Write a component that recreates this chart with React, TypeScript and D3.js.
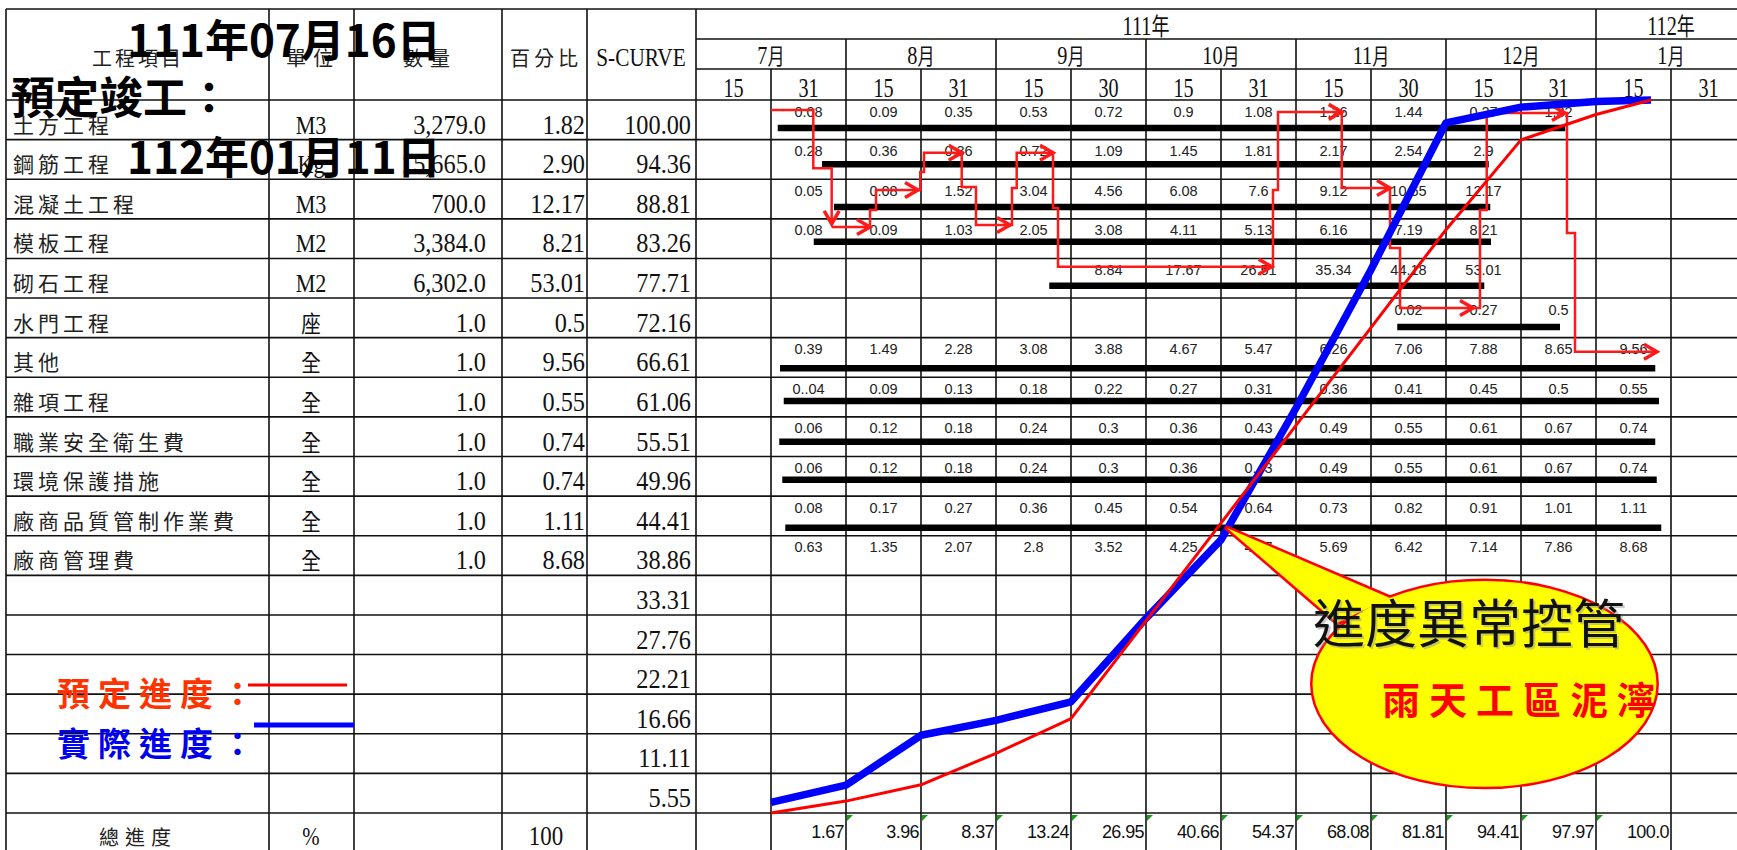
import React from 'react';
import * as d3 from 'd3';

const WIDTH = 1737;
const HEIGHT = 850;

// ---------- left table ----------
const itemNames = ['土方工程', '鋼筋工程', '混凝土工程', '模板工程', '砌石工程', '水門工程', '其他', '雜項工程', '職業安全衛生費', '環境保護措施', '廠商品質管制作業費', '廠商管理費'];
const itemUnits = ['M3', 'Kg', 'M3', 'M2', 'M2', '座', '全', '全', '全', '全', '全', '全'];
const itemQty = ['3,279.0', '15,665.0', '700.0', '3,384.0', '6,302.0', '1.0', '1.0', '1.0', '1.0', '1.0', '1.0', '1.0'];
const itemPct = ['1.82', '2.90', '12.17', '8.21', '53.01', '0.5', '9.56', '0.55', '0.74', '0.74', '1.11', '8.68'];
const sCurveTicks = ['100.00', '94.36', '88.81', '83.26', '77.71', '72.16', '66.61', '61.06', '55.51', '49.96', '44.41', '38.86', '33.31', '27.76', '22.21', '16.66', '11.11', '5.55'];

// ---------- time header ----------
const yearLabels = ['111年', '112年'];
const yearSpans = [[0, 12], [12, 14]];
const monthLabels = ['7月', '8月', '9月', '10月', '11月', '12月', '1月'];
const dayLabels = ['15', '31', '15', '31', '15', '30', '15', '31', '15', '30', '15', '31', '15', '31'];

// ---------- per-item cumulative values in cells ----------
const cellStartCols = [1, 1, 1, 1, 5, 9, 1, 1, 1, 1, 1, 1];
const cellValues = [
  ['0.08', '0.09', '0.35', '0.53', '0.72', '0.9', '1.08', '1.26', '1.44', '0.27', '1.82'],
  ['0.28', '0.36', '0.36', '0.72', '1.09', '1.45', '1.81', '2.17', '2.54', '2.9'],
  ['0.05', '0.08', '1.52', '3.04', '4.56', '6.08', '7.6', '9.12', '10.65', '12.17'],
  ['0.08', '0.09', '1.03', '2.05', '3.08', '4.11', '5.13', '6.16', '7.19', '8.21'],
  ['8.84', '17.67', '26.51', '35.34', '44.18', '53.01'],
  ['0.02', '0.27', '0.5'],
  ['0.39', '1.49', '2.28', '3.08', '3.88', '4.67', '5.47', '6.26', '7.06', '7.88', '8.65', '9.56'],
  ['0..04', '0.09', '0.13', '0.18', '0.22', '0.27', '0.31', '0.36', '0.41', '0.45', '0.5', '0.55'],
  ['0.06', '0.12', '0.18', '0.24', '0.3', '0.36', '0.43', '0.49', '0.55', '0.61', '0.67', '0.74'],
  ['0.06', '0.12', '0.18', '0.24', '0.3', '0.36', '0.43', '0.49', '0.55', '0.61', '0.67', '0.74'],
  ['0.08', '0.17', '0.27', '0.36', '0.45', '0.54', '0.64', '0.73', '0.82', '0.91', '1.01', '1.11'],
  ['0.63', '1.35', '2.07', '2.8', '3.52', '4.25', '4.97', '5.69', '6.42', '7.14', '7.86', '8.68'],
];

// ---------- gantt bars (in column / row units) ----------
const barStartCol = [1.09, 1.68, 1.84, 1.57, 4.71, 9.35, 1.12, 1.17, 1.11, 1.15, 1.19];
const barEndCol = [11.59, 10.57, 10.59, 10.6, 10.51, 11.52, 12.79, 12.84, 12.79, 12.81, 12.87];
const barRowPos = [0.71, 1.62, 2.7, 3.58, 4.69, 5.73, 6.77, 7.6, 8.63, 9.59, 10.8];

// ---------- S-curve ----------
const curveT = [1, 2, 3, 4, 5, 6, 7, 8, 9, 10, 11, 12, 12.733];
const plannedPct = [0, 1.67, 3.96, 8.37, 13.24, 26.95, 40.66, 54.37, 68.08, 81.81, 94.41, 97.97, 100];
const actualPct = [1.5, 3.9, 10.9, 13.0, 15.6, 27.3, 38.3, 56.8, 76.2, 96.8, 99.0, 99.8, 100];
const totalLabels = ['1.67', '3.96', '8.37', '13.24', '26.95', '40.66', '54.37', '68.08', '81.81', '94.41', '97.97', '100.0'];

// ---------- red flow arrows (col, row units) ----------
const arrowPaths: [number, number][][] = [
  [[1.0, 0.25], [1.564, 0.25], [1.564, 1.724], [1.809, 1.724], [1.809, 3.13]],
  [[1.809, 3.206], [2.32, 3.206]],
  [[2.32, 3.206], [2.32, 2.777], [2.4, 2.777], [2.4, 2.272], [2.96, 2.272]],
  [[2.96, 2.272], [2.99, 2.272], [2.99, 1.818], [3.04, 1.818], [3.04, 1.33], [3.543, 1.33]],
  [[3.543, 1.33], [3.543, 2.196], [3.733, 2.196], [3.733, 3.156], [4.187, 3.156]],
  [[4.187, 3.156], [4.213, 3.156], [4.213, 2.222], [4.276, 2.222], [4.276, 1.33], [4.76, 1.33]],
  [[4.76, 1.33], [4.76, 2.727], [4.827, 2.727], [4.827, 4.208], [7.676, 4.208]],
  [[7.676, 4.208], [7.693, 4.208], [7.693, 2.272], [7.76, 2.272], [7.76, 0.3], [8.61, 0.3]],
  [[8.61, 0.3], [8.61, 2.222], [9.253, 2.222]],
  [[9.253, 2.222], [9.253, 3.736], [9.387, 3.736], [9.387, 5.251], [10.36, 5.251]],
  [[10.36, 5.251], [10.453, 5.251], [10.453, 2.777], [10.543, 2.777], [10.543, 0.328], [11.587, 0.328]],
  [[11.587, 0.328], [11.613, 0.328], [11.613, 3.358], [11.72, 3.358], [11.72, 6.354], [12.813, 6.354]],
];

// callout (col, row units)
const calloutCenter = [10.513, 14.74];
const calloutRadius = [2.293, 2.6];
const calloutTip = [7.08, 10.805];
const calloutBase = [[8.547, 13.2], [9.253, 12.57]];

const SERIF = "'Liberation Serif', 'DejaVu Serif', serif";
const CJK = "'Noto Sans CJK TC', 'Noto Sans CJK SC', sans-serif";
const SANS = "'Liberation Sans', Arial, sans-serif";

function splitRuns(s: string): string[] {
  return s.match(/[\x00-\x7F]+|[^\x00-\x7F]+/g) || [];
}

function CondText(props: { x: number; y: number; text: string; anchor?: string; sx?: number; latin?: number; cjk?: number; fill?: string }) {
  const { x, y, text, anchor = 'middle', sx = 0.85, latin = 26, cjk = 22, fill = '#111' } = props;
  return (
    <text transform={`translate(${x},${y}) scale(${sx},1)`} textAnchor={anchor} fill={fill}>
      {splitRuns(text).map((r, i) =>
        /^[\x00-\x7F]+$/.test(r) ? (
          <tspan key={i} fontFamily={SERIF} fontSize={latin}>{r}</tspan>
        ) : (
          <tspan key={i} fontFamily={CJK} fontSize={cjk}>{r}</tspan>
        )
      )}
    </text>
  );
}

function arrowHead(p0: number[], p1: number[], len = 15, ang = Math.PI / 6) {
  const a = Math.atan2(p1[1] - p0[1], p1[0] - p0[0]);
  const l = [p1[0] - len * Math.cos(a - ang), p1[1] - len * Math.sin(a - ang)];
  const r = [p1[0] - len * Math.cos(a + ang), p1[1] - len * Math.sin(a + ang)];
  return `M${l[0]},${l[1]}L${p1[0]},${p1[1]}L${r[0]},${r[1]}`;
}

export default function App() {
  const colX = d3.scaleLinear().domain([0, 14]).range([696, 1746]);
  const rowY = d3.scaleLinear().domain([0, 18]).range([100, 813]);
  const pctY = d3.scaleLinear().domain([0, 100]).range([813, 100]);
  const leftCols = [6, 269, 354, 502, 587, 696];
  const lineColor = '#111';
  const lw = 1.6;

  const curveLine = d3
    .line<number>()
    .x((_, i) => colX(curveT[i]))
    .y((d) => pctY(d));

  const toPx = (p: number[]) => [colX(p[0]), rowY(p[1])];
  const flowLine = d3
    .line<number[]>()
    .x((p) => colX(p[0]))
    .y((p) => rowY(p[1]));

  // callout geometry
  const cx = colX(calloutCenter[0]);
  const cy = rowY(calloutCenter[1]);
  const rx = colX(calloutCenter[0] + calloutRadius[0]) - cx;
  const ry = rowY(calloutCenter[1] + calloutRadius[1]) - cy;
  const tip = toPx(calloutTip);
  const b1 = toPx(calloutBase[0]);
  const b2 = toPx(calloutBase[1]);
  const triPath = `M${tip[0]},${tip[1]}L${b1[0]},${b1[1]}L${b2[0]},${b2[1]}Z`;

  const hLines: JSX.Element[] = [];
  hLines.push(<line key="top" x1={6} x2={WIDTH} y1={9} y2={9} />);
  hLines.push(<line key="yr" x1={696} x2={WIDTH} y1={39} y2={39} />);
  hLines.push(<line key="mo" x1={696} x2={WIDTH} y1={69} y2={69} />);
  for (let i = 0; i <= 18; i++) {
    hLines.push(<line key={'r' + i} x1={6} x2={WIDTH} y1={rowY(i)} y2={rowY(i)} />);
  }
  const vLines: JSX.Element[] = [];
  leftCols.forEach((x, i) => vLines.push(<line key={'lc' + i} x1={x} x2={x} y1={9} y2={HEIGHT} />));
  for (let k = 1; k <= 13; k++) {
    const top = k === 12 ? 9 : k % 2 === 0 ? 39 : 69;
    vLines.push(<line key={'vc' + k} x1={colX(k)} x2={colX(k)} y1={top} y2={HEIGHT} />);
  }

  return (
    <svg
      width={WIDTH}
      height={HEIGHT}
      style={{ position: 'absolute', left: 0, top: 0, background: '#fff' }}
      xmlns="http://www.w3.org/2000/svg"
    >
      <rect x={0} y={0} width={WIDTH} height={HEIGHT} fill="#fff" />
      <g stroke={lineColor} strokeWidth={lw}>
        {hLines}
        {vLines}
      </g>

      {/* left header */}
      <text x={138} y={66} textAnchor="middle" fontFamily={CJK} fontSize={20} letterSpacing={3} fill="#222">工程項目</text>
      <text x={313} y={66} textAnchor="middle" fontFamily={CJK} fontSize={20} letterSpacing={7} fill="#222">單位</text>
      <text x={430} y={66} textAnchor="middle" fontFamily={CJK} fontSize={20} letterSpacing={7} fill="#222">數量</text>
      <text x={546} y={66} textAnchor="middle" fontFamily={CJK} fontSize={20} letterSpacing={4} fill="#222">百分比</text>
      <CondText x={641} y={66} text="S-CURVE" sx={0.82} latin={26} />

      {/* time header */}
      {yearLabels.map((t, i) => (
        <CondText key={'y' + i} x={(colX(yearSpans[i][0]) + colX(yearSpans[i][1])) / 2} y={35} text={t} sx={0.75} latin={27} cjk={24} />
      ))}
      {monthLabels.map((t, i) => (
        <CondText key={'m' + i} x={colX(i * 2 + 1)} y={64} text={t} sx={0.78} latin={26} cjk={22} />
      ))}
      {dayLabels.map((t, i) => (
        <CondText key={'d' + i} x={colX(i + 0.5)} y={97} text={t} sx={0.72} latin={28} />
      ))}

      {/* left table body */}
      {itemNames.map((n, i) => (
        <text key={'n' + i} x={13} y={rowY(i + 1) - 7} fontFamily={CJK} fontSize={21} letterSpacing={4} fill="#222">{n}</text>
      ))}
      {itemUnits.map((u, i) => (
        <CondText key={'u' + i} x={311} y={rowY(i + 1) - 6} text={u} sx={0.85} latin={26} cjk={23} />
      ))}
      {itemQty.map((q, i) => (
        <CondText key={'q' + i} x={486} y={rowY(i + 1) - 6} text={q} anchor="end" sx={0.9} latin={27} />
      ))}
      {itemPct.map((q, i) => (
        <CondText key={'p' + i} x={585} y={rowY(i + 1) - 6} text={q} anchor="end" sx={0.9} latin={27} />
      ))}
      {sCurveTicks.map((q, i) => (
        <CondText key={'s' + i} x={691} y={rowY(i + 1) - 6} text={q} anchor="end" sx={0.9} latin={27} />
      ))}
      <text x={138} y={845} textAnchor="middle" fontFamily={CJK} fontSize={20} letterSpacing={6} fill="#222">總進度</text>
      <CondText x={311} y={845} text="%" sx={0.8} latin={26} />
      <CondText x={546} y={845} text="100" sx={0.85} latin={27} />

      {/* gantt bars */}
      <g stroke="#000" strokeWidth={6.5}>
        {barStartCol.map((s, i) => (
          <line key={'b' + i} x1={colX(s)} x2={colX(barEndCol[i])} y1={rowY(barRowPos[i])} y2={rowY(barRowPos[i])} />
        ))}
      </g>

      {/* cell values */}
      <g fontFamily={SANS} fontSize={14.5} fill="#222" textAnchor="middle">
        {cellValues.map((vals, r) =>
          vals.map((v, j) => (
            <text key={r + '-' + j} x={colX(cellStartCols[r] + j + 0.5)} y={rowY(r) + 16.5}>{v}</text>
          ))
        )}
      </g>

      {/* total progress row */}
      <g fontFamily={SANS} fontSize={18} fill="#111" textAnchor="end" letterSpacing={-0.6}>
        {totalLabels.map((t, i) => (
          <text key={'t' + i} x={colX(i + 2) - 2} y={838}>{t}</text>
        ))}
      </g>
      <g fill="#1a9a1a">
        {totalLabels.slice(1).map((_, i) => {
          const x = colX(i + 2) + 1;
          return <path key={'g' + i} d={`M${x},815L${x + 6},815L${x},821Z`} />;
        })}
      </g>

      {/* red flow arrows */}
      <g stroke="#ff1a1a" strokeWidth={2.5} fill="none" strokeLinejoin="miter">
        {arrowPaths.map((pts, i) => {
          const a = toPx(pts[pts.length - 2]);
          const b = toPx(pts[pts.length - 1]);
          return (
            <g key={'a' + i}>
              <path d={flowLine(pts) || ''} />
              <path d={arrowHead(a, b)} strokeWidth={3.5} />
            </g>
          );
        })}
      </g>

      {/* S-curves */}
      <path d={curveLine(actualPct) || ''} fill="none" stroke="#0000ff" strokeWidth={7.5} strokeLinejoin="round" />
      <path d={curveLine(plannedPct) || ''} fill="none" stroke="#ff0000" strokeWidth={3} strokeLinejoin="round" />

      {/* callout */}
      <g>
        <path d={triPath} fill="#ffff00" stroke="#ff0000" strokeWidth={5} strokeLinejoin="round" />
        <ellipse cx={cx} cy={cy} rx={rx} ry={ry} fill="#ffff00" stroke="#ff0000" strokeWidth={5} />
        <path d={triPath} fill="#ffff00" />
        <ellipse cx={cx} cy={cy} rx={rx} ry={ry} fill="#ffff00" />
        <text x={colX(8.227) + 2} y={rowY(13.71) + 2} fontFamily={CJK} fontSize={52} fill="#999" opacity={0.5}>進度異常控管</text>
        <text x={colX(8.227)} y={rowY(13.71)} fontFamily={CJK} fontSize={52} fill="#111">進度異常控管</text>
        <text x={colX(9.147)} y={rowY(15.5)} fontFamily={CJK} fontSize={38} fontWeight={700} letterSpacing={9} fill="#ff0000">雨天工區泥濘</text>
      </g>

      {/* legend */}
      <text x={57} y={706} fontFamily={CJK} fontSize={33} fontWeight={700} letterSpacing={8} fill="#ff3300">預定進度：</text>
      <line x1={248} x2={347} y1={685} y2={685} stroke="#ff0000" strokeWidth={3} />
      <text x={57} y={756} fontFamily={CJK} fontSize={33} fontWeight={700} letterSpacing={8} fill="#0000ee">實際進度：</text>
      <line x1={254} x2={354} y1={725} y2={725} stroke="#0000ff" strokeWidth={5} />

      {/* overlay dates */}
      <g fontFamily={CJK} fontSize={44} fontWeight={700} fill="#000">
        <text x={127} y={57}>111年07月16日</text>
        <text x={11} y={114}>預定竣工：</text>
        <text x={127} y={174}>112年01月11日</text>
      </g>
    </svg>
  );
}
